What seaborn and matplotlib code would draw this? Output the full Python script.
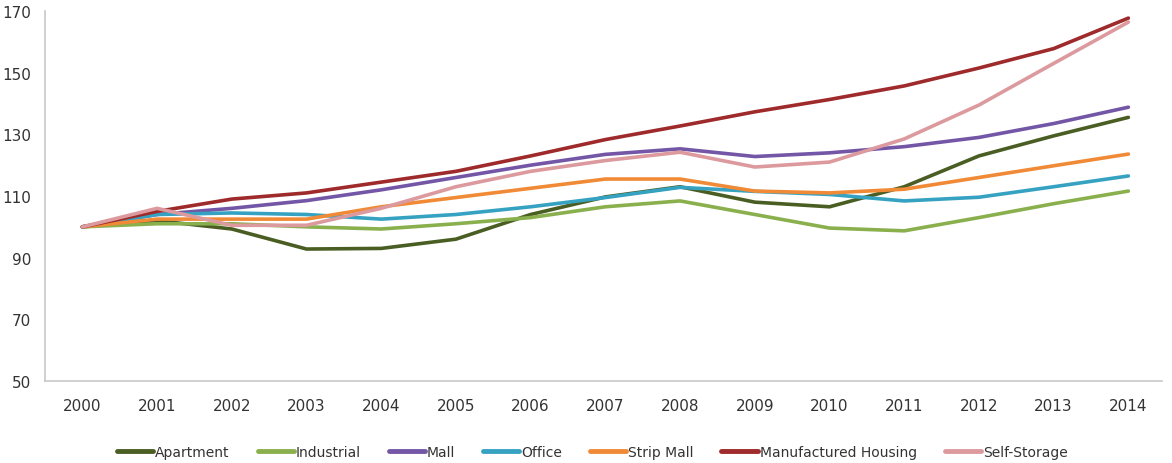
import pandas as pd
import matplotlib.pyplot as plt
import seaborn as sns

years = [2000, 2001, 2002, 2003, 2004, 2005, 2006, 2007, 2008, 2009, 2010, 2011, 2012, 2013, 2014]

apartment = [100, 102, 99.3, 92.8, 93, 96, 104, 109.7, 113, 108, 106.5, 113, 123, 129.5, 135.5]
industrial = [100, 101, 101, 100, 99.3, 101, 103, 106.5, 108.4, 104, 99.6, 98.7, 103, 107.5, 111.6]
mall = [100, 104, 106, 108.5, 112, 116, 120, 123.5, 125.3, 122.8, 124, 126, 129, 133.5, 138.8]
office = [100, 104, 104.5, 104, 102.5, 104, 106.5, 109.5, 112.8, 111.5, 110.5, 108.4, 109.6, 113, 116.5]
strip_mall = [100, 102.5, 102.5, 102.5, 106.5, 109.5, 112.5, 115.5, 115.5, 111.6, 111, 112.2, 116, 119.8, 123.6]
manufactured = [100, 105, 109, 111, 114.5, 118, 123, 128.3, 132.7, 137.3, 141.3, 145.7, 151.5, 157.8, 167.7]
self_storage = [100, 106, 100.5, 100.5, 106, 113, 118, 121.5, 124.2, 119.4, 121, 128.5, 139.5, 153, 166.4]

series = {
    'Apartment': apartment,
    'Industrial': industrial,
    'Mall': mall,
    'Office': office,
    'Strip Mall': strip_mall,
    'Manufactured Housing': manufactured,
    'Self-Storage': self_storage,
}
colors = ['#4a5e23', '#8ab04e', '#7356a6', '#36a2c2', '#f08a36', '#9e2a2b', '#dc9a9e']

# long form table for seaborn
rows = []
for name, vals in series.items():
    for i, v in enumerate(vals):
        rows.append({'pos': i, 'value': v, 'type': name})
df = pd.DataFrame(rows)

sns.set_style('white')
fig = plt.figure(figsize=(11.72, 4.64), dpi=100)
ax = fig.add_axes([45 / 1172, 82 / 464, 1117 / 1172, 370 / 464])

sns.lineplot(data=df, x='pos', y='value', hue='type', palette=colors,
             linewidth=2.6, ax=ax, legend=True)

ax.set_xlim(-0.5, 14.45)
ax.set_ylim(50, 170)
ax.set_yticks(range(50, 171, 20))
ax.set_xticks(range(len(years)))
ax.set_xticklabels([str(y) for y in years])
ax.set_xlabel('')
ax.set_ylabel('')
ax.tick_params(axis='both', length=0, labelsize=11, colors='#333333')
ax.tick_params(axis='x', pad=12)
ax.tick_params(axis='y', pad=10)

for side in ['top', 'right']:
    ax.spines[side].set_visible(False)
for side in ['left', 'bottom']:
    ax.spines[side].set_color('#c8c8c8')
    ax.spines[side].set_linewidth(1.2)

handles, labels = ax.get_legend_handles_labels()
for h in handles:
    h.set_linewidth(3.5)
leg = ax.legend(handles, labels, loc='lower center', bbox_to_anchor=(0.49, -0.245),
                ncol=7, frameon=False, fontsize=10, handlelength=2.6,
                handletextpad=0.15, columnspacing=2.0)
for t in leg.get_texts():
    t.set_color('#333333')

fig.savefig('out.png', dpi=100)
